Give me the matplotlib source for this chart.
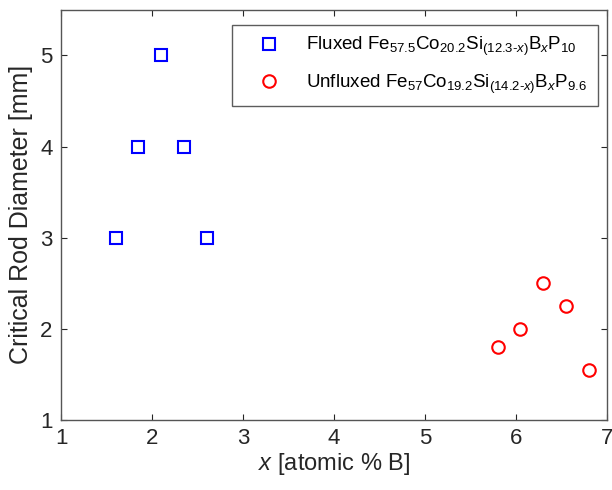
import matplotlib
matplotlib.use("Agg")
import matplotlib.pyplot as plt

plt.rcParams['font.family'] = ['Liberation Sans', 'DejaVu Sans']
plt.rcParams['mathtext.fontset'] = 'custom'
plt.rcParams['mathtext.rm'] = 'Liberation Sans'
plt.rcParams['mathtext.it'] = 'Liberation Sans:italic'
plt.rcParams['mathtext.bf'] = 'Liberation Sans:bold'

# fluxed series
flux_x = [1.6, 1.85, 2.1, 2.35, 2.6]
flux_d = [3, 4, 5, 4, 3]
# unfluxed series
unflux_x = [5.8, 6.05, 6.3, 6.55, 6.8]
unflux_d = [1.8, 2.0, 2.5, 2.25, 1.55]

lab_flux = r'Fluxed Fe$_{57.5}$Co$_{20.2}$Si$_{(12.3\text{-}x)}$B$_{x}$P$_{10}$'
lab_unflux = r'Unfluxed Fe$_{57}$Co$_{19.2}$Si$_{(14.2\text{-}x)}$B$_{x}$P$_{9.6}$'

fig = plt.figure(figsize=(6.12, 4.9), dpi=100)
ax = fig.add_axes([0.0997, 0.143, 0.892, 0.837])

ax.plot(flux_x, flux_d, 's', mfc='none', mec='#0000ff', ms=8, mew=1.5, label=lab_flux)
ax.plot(unflux_x, unflux_d, 'o', mfc='none', mec='#ff0000', ms=9, mew=1.5, label=lab_unflux)

ax.set_xlim(1, 7)
ax.set_ylim(1, 5.5)
ax.set_xticks([1, 2, 3, 4, 5, 6, 7])
ax.set_yticks([1, 2, 3, 4, 5])
ax.tick_params(direction='in', top=True, right=True, labelsize=16, colors='#262626', length=4, pad=6)
for s in ax.spines.values():
    s.set_color('#555555')
    s.set_linewidth(1.0)

ax.set_xlabel(r'$x$ [atomic % B]', fontsize=17, color='#262626', labelpad=1)
ax.set_ylabel('Critical Rod Diameter [mm]', fontsize=18, color='#262626', labelpad=5)

leg = ax.legend(loc='upper right', fontsize=13.5, frameon=True, fancybox=False,
                edgecolor='#333333', borderpad=0.55, handletextpad=0.6, labelspacing=0.75,
                handlelength=2.8, borderaxespad=0.0, bbox_to_anchor=(0.983, 0.963))
leg.get_frame().set_linewidth(1.0)

fig.savefig('out.png', dpi=100)
